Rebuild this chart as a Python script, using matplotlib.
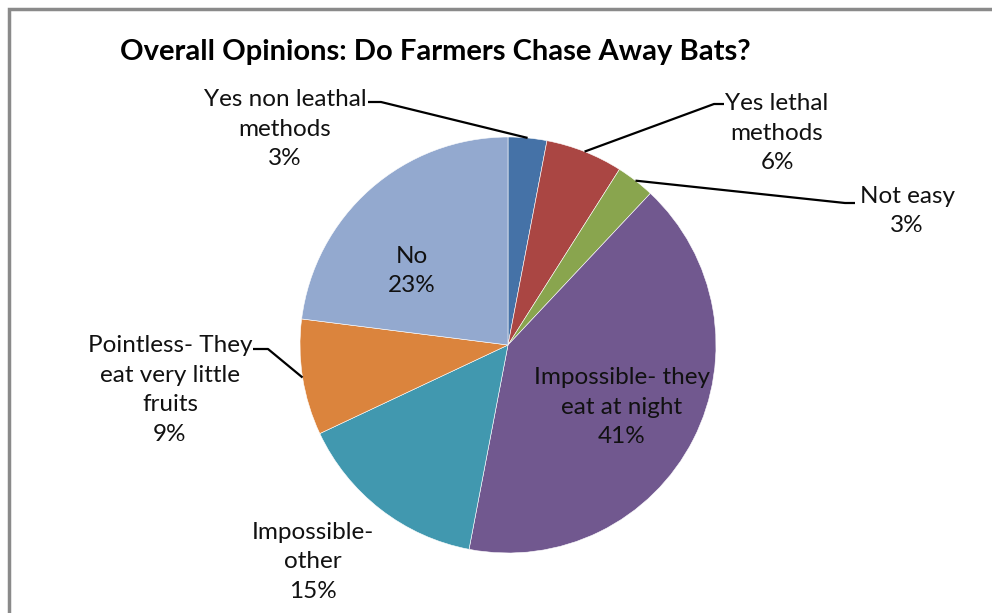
import numpy as np
import matplotlib.pyplot as plt

# ── DATA ───────────────────────────────────────────────────────────────────────
labels = ['Yes non leathal\nmethods', 'Yes lethal\nmethods', 'Not easy',
          'Impossible- they\neat at night', 'Impossible-\nother',
          'Pointless- They\neat very little\nfruits', 'No']
shares = [3, 6, 3, 41, 15, 9, 23]
colors = ['#4572A7', '#AA4643', '#89A54E', '#71588F', '#4198AF',
          '#DB843D', '#93A9CF']

W, H = 992, 613
plt.rcParams['font.family'] = ['Lato', 'DejaVu Sans']

def px(x, y):
    # image pixel -> data coords (y up)
    return x, H - y

fig = plt.figure(figsize=(W / 100, H / 100), dpi=100)
ax = fig.add_axes([0, 0, 1, 1])
ax.set_xlim(0, W)
ax.set_ylim(0, H)
ax.set_aspect('equal')
ax.axis('off')

# chart-area frame (right/bottom edges run off the canvas)
ax.add_patch(plt.Rectangle(px(9, 1000), 1200, 1000 - 9, fill=False,
                           edgecolor='#8a8a8a', linewidth=2.5, zorder=0))

cx, cy = px(508, 345)
R = 208
wedges, _ = ax.pie(shares, colors=colors, startangle=90, counterclock=False,
                   center=(cx, cy), radius=R,
                   wedgeprops=dict(edgecolor='white', linewidth=0.4))
ax.set_xlim(0, W)
ax.set_ylim(0, H)

ax.text(*px(120, 52), 'Overall Opinions: Do Farmers Chase Away Bats?',
        fontsize=21, fontweight='bold', ha='left', va='center')

# label centre (pixels) and leader elbow (None = inside slice)
label_pos = [(285, 129), (777, 133), (907, 211), (622, 407), (313, 562),
             (170, 390), (412, 271)]
elbows = [[(368, 102), (381, 102)], [(724, 104), (714, 104)],
          [(855, 203), (845, 203)], None, None,
          [(253, 349), (268, 349)], None]

fs = 17.5
for w, lab, s, pos, elb in zip(wedges, labels, shares, label_pos, elbows):
    ax.text(*px(*pos), f'{lab}\n{s}%', fontsize=fs, ha='center',
            va='center', linespacing=1.5, color='#111111')
    if elb is None:
        continue
    ang = np.deg2rad((w.theta1 + w.theta2) / 2)
    ex, ey = cx + R * np.cos(ang), cy + R * np.sin(ang)
    xs = [px(*p)[0] for p in elb] + [ex]
    ys = [px(*p)[1] for p in elb] + [ey]
    ax.plot(xs, ys, color='black', linewidth=1.6, solid_capstyle='butt')

fig.savefig('out.png', dpi=100)
